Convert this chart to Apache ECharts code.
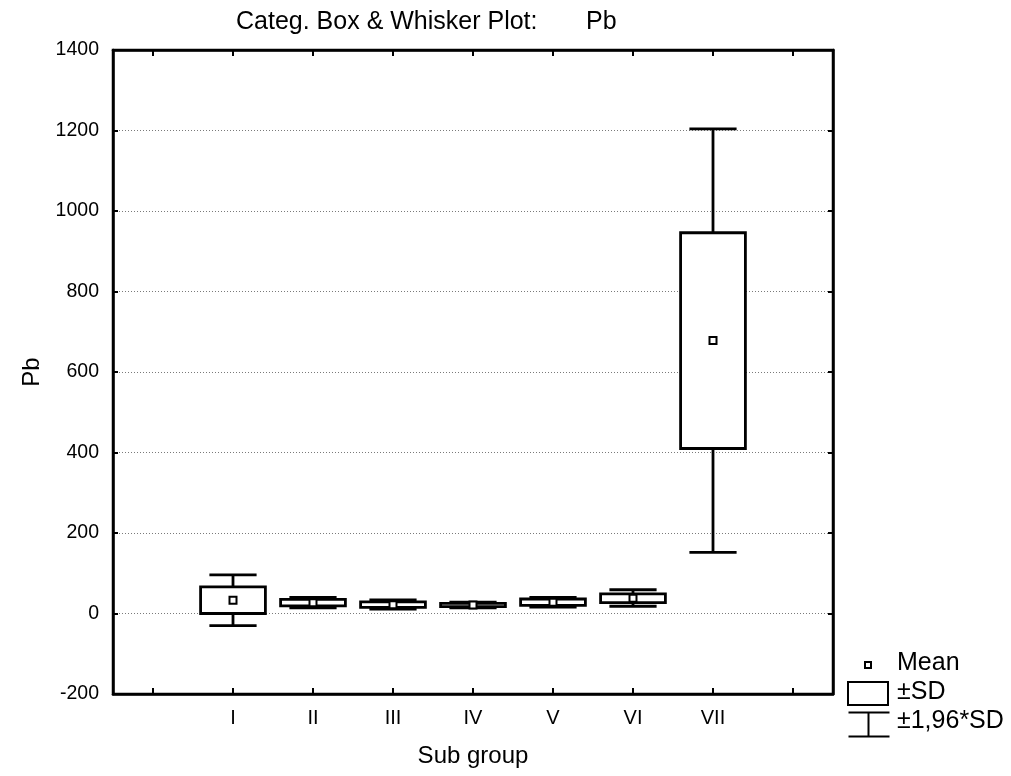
<!DOCTYPE html>
<html>
<head>
<meta charset="utf-8">
<script src="https://cdn.jsdelivr.net/npm/echarts@6/dist/echarts.min.js"></script>
<style>
html,body{margin:0;padding:0;background:#fff;}
#chart{width:1011px;height:776px;}
</style>
</head>
<body>
<div id="chart"></div>
<script>
// Data
const categories = ['', 'I', 'II', 'III', 'IV', 'V', 'VI', 'VII', ''];
const groups     = ['I', 'II', 'III', 'IV', 'V', 'VI', 'VII'];
const means      = [33, 27, 22, 21, 28, 38, 678];
const sdLow      = [0, 19, 15, 17, 20, 27, 410];
const sdHigh     = [66, 35, 29, 25, 36, 49, 946];
const ciLow      = [-30, 14, 11, 14, 16, 18, 152];
const ciHigh     = [96, 40, 34, 28, 40, 59, 1204];
const yTicks     = [-200, 0, 200, 400, 600, 800, 1000, 1200, 1400];

const FONT = '"Liberation Sans", Arial, sans-serif';
const chart = echarts.init(document.getElementById('chart'));

const seriesData = groups.map((g, i) => [g, means[i], sdLow[i], sdHigh[i], ciLow[i], ciHigh[i]]);

function renderBox(params, api) {
  const cat = api.value(0);
  const band = api.size([1, 0])[0];
  const xC = api.coord([cat, 0])[0];
  const yMean = api.coord([cat, api.value(1)])[1];
  const ySdLo = api.coord([cat, api.value(2)])[1];
  const ySdHi = api.coord([cat, api.value(3)])[1];
  const yCiLo = api.coord([cat, api.value(4)])[1];
  const yCiHi = api.coord([cat, api.value(5)])[1];
  const bw = band * 0.81;
  const cw = band * 0.59;
  const ls = {stroke: '#000', lineWidth: 2.8, fill: null};
  const children = [
    {type: 'line', shape: {x1: xC, y1: yCiHi, x2: xC, y2: ySdHi}, style: ls},
    {type: 'line', shape: {x1: xC, y1: ySdLo, x2: xC, y2: yCiLo}, style: ls},
    {type: 'line', shape: {x1: xC - cw / 2, y1: yCiHi, x2: xC + cw / 2, y2: yCiHi}, style: ls},
    {type: 'line', shape: {x1: xC - cw / 2, y1: yCiLo, x2: xC + cw / 2, y2: yCiLo}, style: ls},
    {type: 'rect', shape: {x: xC - bw / 2, y: ySdHi, width: bw, height: ySdLo - ySdHi},
      style: {stroke: '#000', lineWidth: 2.8, fill: '#fff'}},
    {type: 'rect', shape: {x: xC - 3.5, y: yMean - 3.5, width: 7, height: 7},
      style: {stroke: '#000', lineWidth: 2, fill: '#fff'}}
  ];
  return {type: 'group', children: children};
}

chart.setOption({
  animation: false,
  backgroundColor: '#fff',
  title: {
    text: 'Categ. Box & Whisker Plot:       Pb',
    left: 231, top: 5,
    textStyle: {color: '#000', fontFamily: FONT, fontWeight: 'normal', fontSize: 25}
  },
  grid: {left: 113, right: 178, top: 50, bottom: 82, show: true, borderColor: '#000', borderWidth: 2.5, backgroundColor: 'transparent'},
  xAxis: [{
    type: 'category', data: categories, boundaryGap: true, position: 'bottom',
    name: 'Sub group', nameLocation: 'middle', nameGap: 50,
    nameTextStyle: {color: '#000', fontFamily: FONT, fontSize: 24},
    axisLine: {show: true, onZero: false, lineStyle: {color: '#000', width: 2.5}},
    axisTick: {show: true, inside: true, alignWithLabel: true, interval: 0, length: 6, lineStyle: {color: '#000', width: 2}},
    axisLabel: {interval: 0, margin: 14, fontSize: 20, color: '#000', fontFamily: FONT},
    splitLine: {show: false}
  }, {
    type: 'category', data: categories, boundaryGap: true, position: 'top',
    axisLine: {show: true, onZero: false, lineStyle: {color: '#000', width: 2.5}},
    axisTick: {show: true, inside: true, alignWithLabel: true, interval: 0, length: 6, lineStyle: {color: '#000', width: 2}},
    axisLabel: {show: false}
  }],
  yAxis: [{
    type: 'value', min: -200, max: 1400, interval: 200, position: 'left',
    name: 'Pb', nameLocation: 'middle', nameGap: 60, nameRotate: 90,
    nameTextStyle: {color: '#000', fontFamily: FONT, fontSize: 24},
    axisLine: {show: true, onZero: false, lineStyle: {color: '#000', width: 2.5}},
    axisTick: {show: true, inside: true, length: 5, lineStyle: {color: '#000', width: 2}},
    axisLabel: {margin: 14, fontSize: 19.5, color: '#000', fontFamily: FONT,
      formatter: v => yTicks.includes(v) ? String(v) : ''},
    splitLine: {show: true, lineStyle: {color: '#7a7a7a', width: 1, type: [1, 2]}}
  }, {
    type: 'value', min: -200, max: 1400, interval: 200, position: 'right',
    axisLine: {show: true, onZero: false, lineStyle: {color: '#000', width: 2.5}},
    axisTick: {show: true, inside: true, length: 5, lineStyle: {color: '#000', width: 2}},
    axisLabel: {show: false},
    splitLine: {show: false}
  }],
  series: [{
    type: 'custom',
    xAxisIndex: 0, yAxisIndex: 0,
    renderItem: renderBox,
    encode: {x: 0, y: [1, 2, 3, 4, 5]},
    data: seriesData,
    z: 5
  }],
  graphic: [
    {type: 'rect', left: 864, top: 661, shape: {width: 6, height: 6}, style: {stroke: '#000', lineWidth: 2, fill: '#fff'}},
    {type: 'text', left: 897, top: 651, style: {text: 'Mean', font: '25px ' + FONT, fill: '#000'}},
    {type: 'rect', left: 847, top: 681, shape: {width: 40, height: 23}, style: {stroke: '#000', lineWidth: 2, fill: '#fff'}},
    {type: 'text', left: 897, top: 680, style: {text: '±SD', font: '25px ' + FONT, fill: '#000'}},
    {type: 'group', left: 846, top: 710, children: [
      {type: 'line', shape: {x1: 0, y1: 1, x2: 41, y2: 1}, style: {stroke: '#000', lineWidth: 2}},
      {type: 'line', shape: {x1: 20, y1: 1, x2: 20, y2: 25}, style: {stroke: '#000', lineWidth: 2}},
      {type: 'line', shape: {x1: 0, y1: 25, x2: 41, y2: 25}, style: {stroke: '#000', lineWidth: 2}}
    ]},
    {type: 'text', left: 897, top: 709, style: {text: '±1,96*SD', font: '25px ' + FONT, fill: '#000'}}
  ]
});
</script>
</body>
</html>
